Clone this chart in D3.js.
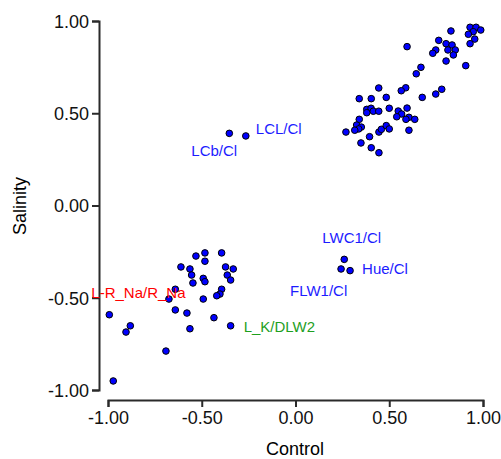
<!DOCTYPE html>
<html>
<head>
<meta charset="utf-8">
<script src="https://cdn.jsdelivr.net/npm/d3@7"></script>
<style>
  body { margin: 0; background: #fff; }
  svg { font-family: "Liberation Sans", Arial, sans-serif; }
</style>
</head>
<body>
<svg id="chart" width="501" height="459"></svg>
<script>
// loadings: [Control, Salinity]
const clusterHigh = [
  [0.931, 0.966], [0.963, 0.966], [0.988, 0.951], [0.948, 0.942], [0.922, 0.928],
  [0.829, 0.946], [0.956, 0.902], [0.931, 0.877], [0.764, 0.895], [0.803, 0.877],
  [0.835, 0.870], [0.813, 0.843], [0.852, 0.843], [0.842, 0.816], [0.748, 0.843],
  [0.732, 0.825], [0.803, 0.783], [0.908, 0.758], [0.595, 0.861], [0.669, 0.749],
  [0.644, 0.714], [0.444, 0.637], [0.588, 0.638], [0.564, 0.622], [0.340, 0.579],
  [0.404, 0.579], [0.484, 0.586], [0.676, 0.586], [0.748, 0.604], [0.780, 0.630],
  [0.380, 0.521], [0.403, 0.527], [0.380, 0.503], [0.415, 0.511], [0.444, 0.511],
  [0.500, 0.527], [0.548, 0.512], [0.595, 0.528], [0.566, 0.496], [0.540, 0.481],
  [0.605, 0.478], [0.589, 0.467], [0.636, 0.467], [0.340, 0.467], [0.326, 0.436],
  [0.351, 0.425], [0.337, 0.415], [0.316, 0.408], [0.269, 0.398], [0.445, 0.398],
  [0.458, 0.413], [0.484, 0.433], [0.500, 0.415], [0.605, 0.408], [0.395, 0.373],
  [0.349, 0.339], [0.404, 0.313], [0.445, 0.286]
];

const clusterLow = [
  [-0.531, -0.274], [-0.483, -0.257], [-0.483, -0.302], [-0.394, -0.257], [-0.611, -0.333],
  [-0.563, -0.344], [-0.554, -0.377], [-0.547, -0.420], [-0.492, -0.395], [-0.483, -0.413],
  [-0.373, -0.333], [-0.332, -0.344], [-0.364, -0.377], [-0.346, -0.404], [-0.394, -0.454],
  [-0.403, -0.480], [-0.420, -0.489], [-0.492, -0.507], [-0.675, -0.507], [-0.641, -0.566],
  [-0.579, -0.583], [-0.563, -0.668], [-0.435, -0.608], [-0.993, -0.592], [-0.881, -0.652],
  [-0.904, -0.686], [-0.691, -0.789], [-0.972, -0.951]
];

const labelNames = ["LCb/Cl", "LCL/Cl", "LWC1/Cl", "Hue/Cl", "FLW1/Cl", "L-R_Na/R_Na", "L_K/DLW2"];
const labelX = [-0.353, -0.265, 0.260, 0.291, 0.243, -0.641, -0.346];
const labelY = [0.391, 0.377, -0.292, -0.353, -0.344, -0.454, -0.652];
const labelGroup = ["blue", "blue", "blue", "blue", "blue", "red", "green"];

const tickValues = [-1, -0.5, 0, 0.5, 1];

// where each label sits relative to its point (px)
const labelOffset = [[-38, 23], [10, -2], [-22, -16], [12, 3], [-51, 27], [-84, 9], [13, 6]];
const labelColor = {blue: "#1c1cff", red: "#ff0000", green: "#1ea01e"};

const svg = d3.select("#chart");

const x = d3.scaleLinear().domain([-1, 1]).range([108, 483]);
const y = d3.scaleLinear().domain([-1, 1]).range([390, 21]);

const fmt = d => d.toFixed(2);

const xAxis = svg.append("g")
    .attr("transform", "translate(0,400)")
    .call(d3.axisBottom(x).tickValues(tickValues).tickFormat(fmt).tickSizeOuter(0).tickSize(7).tickPadding(4));
const yAxis = svg.append("g")
    .attr("transform", "translate(99,0)")
    .call(d3.axisLeft(y).tickValues(tickValues).tickFormat(fmt).tickSizeOuter(0).tickSize(7).tickPadding(3));

[xAxis, yAxis].forEach(a => {
    a.selectAll("path, line").attr("stroke", "#2a2a2a").attr("stroke-width", 2);
    a.selectAll("text").attr("font-size", 18).attr("fill", "#111")
        .attr("font-family", "'Liberation Sans', Arial, sans-serif");
});
yAxis.selectAll("text").attr("dy", "0.36em");

svg.append("text")
    .attr("x", 295).attr("y", 455)
    .attr("text-anchor", "middle")
    .attr("font-size", 18)
    .text("Control");

svg.append("text")
    .attr("transform", "translate(26,206) rotate(-90)")
    .attr("text-anchor", "middle")
    .attr("font-size", 18)
    .text("Salinity");

const allPoints = clusterHigh.concat(clusterLow)
    .concat(labelX.map((v, i) => [v, labelY[i]]));

svg.append("g")
    .selectAll("circle")
    .data(allPoints)
    .enter()
    .append("circle")
        .attr("cx", d => x(d[0]))
        .attr("cy", d => y(d[1]))
        .attr("r", 3.3)
        .attr("fill", "#0000ff")
        .attr("stroke", "#000")
        .attr("stroke-width", 1);

svg.append("g")
    .selectAll("text")
    .data(labelNames)
    .enter()
    .append("text")
        .attr("x", (d, i) => x(labelX[i]) + labelOffset[i][0])
        .attr("y", (d, i) => y(labelY[i]) + labelOffset[i][1])
        .attr("font-size", 15)
        .attr("fill", (d, i) => labelColor[labelGroup[i]])
        .text(d => d);
</script>
</body>
</html>
